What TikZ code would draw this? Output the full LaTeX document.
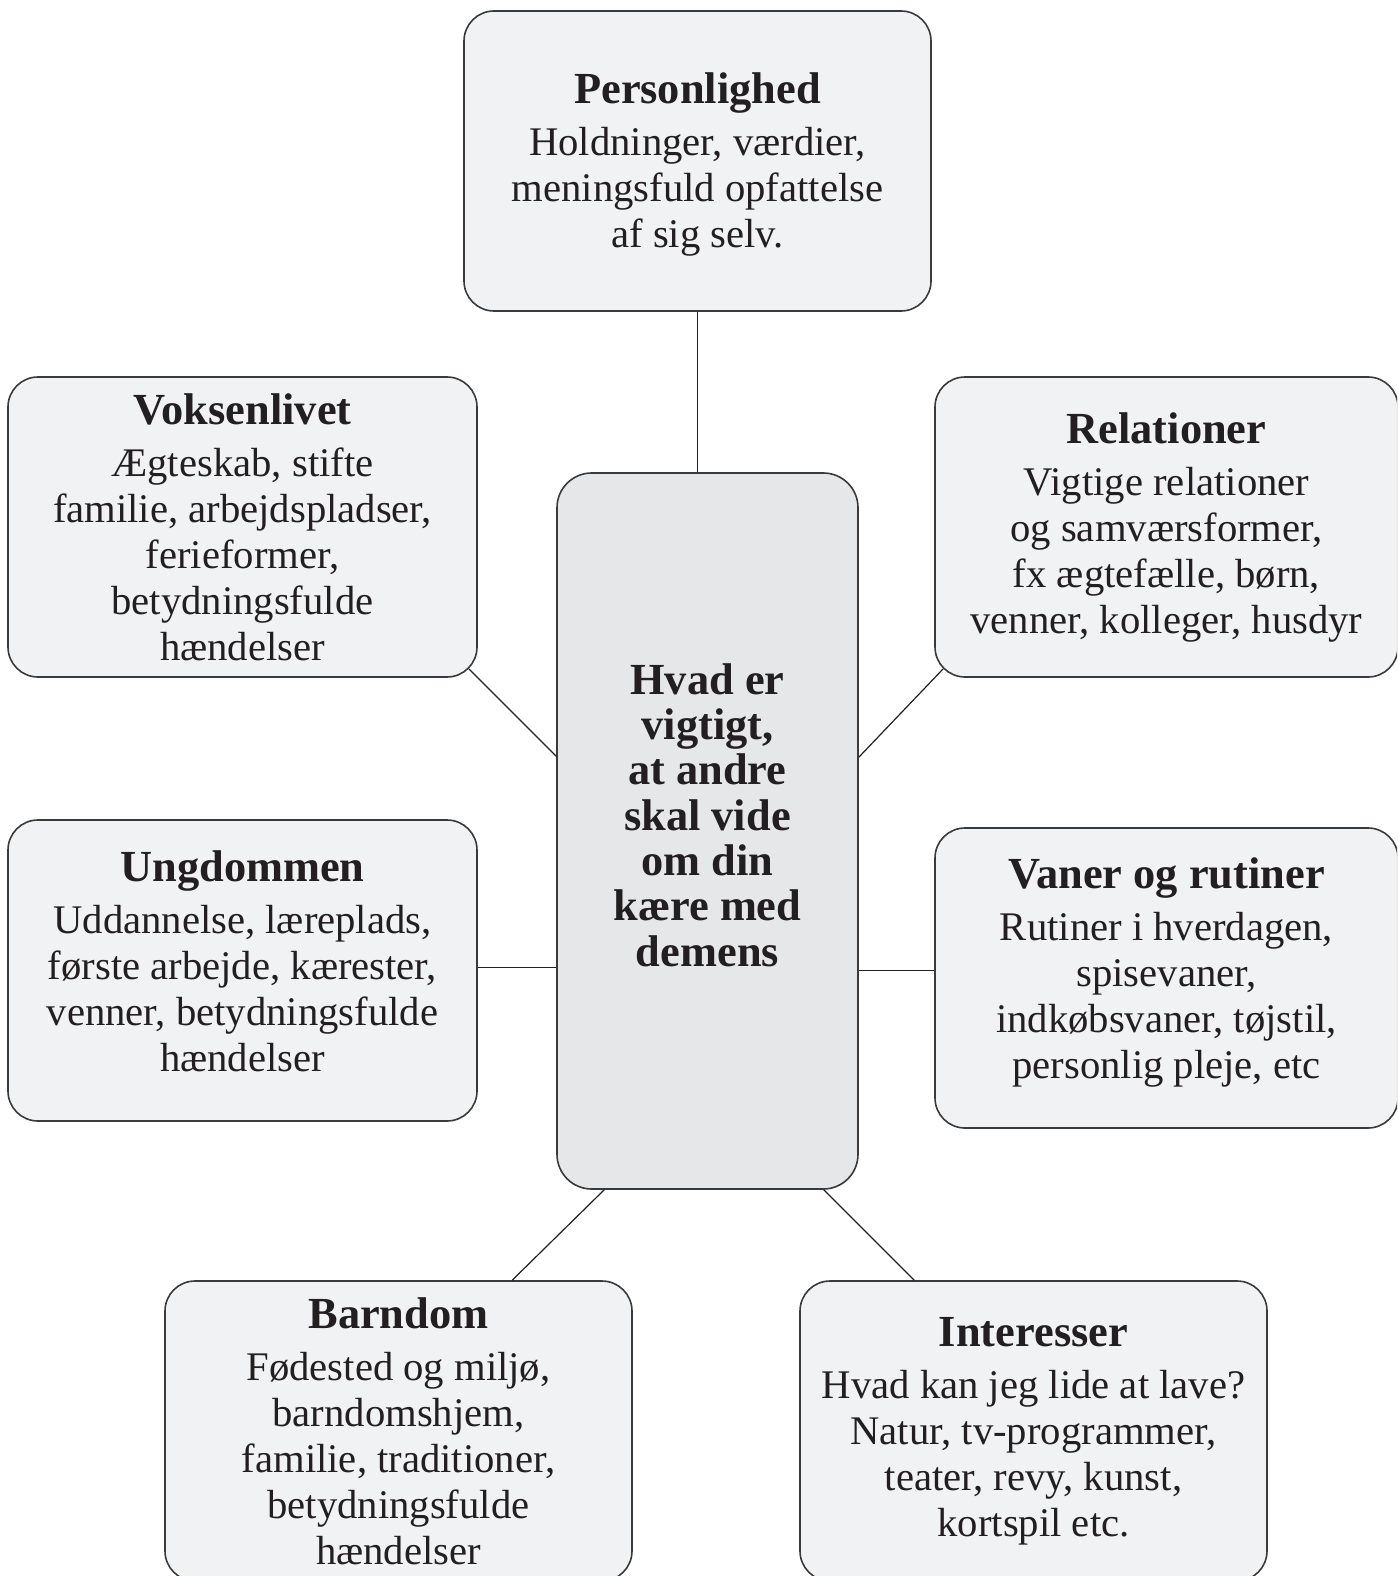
\documentclass[tikz,border=0pt]{standalone}
\usepackage{fontspec}
\setmainfont{Liberation Serif}
\usetikzlibrary{calc}
\definecolor{ink}{HTML}{231F20}
\definecolor{edgecol}{HTML}{3A3A3A}
\definecolor{boxfill}{HTML}{F1F2F3}
\definecolor{hubfill}{HTML}{E6E7E8}
\newcommand{\ttl}[1]{{\fontsize{33.3}{34.5}\selectfont\bfseries #1}\\[4.5pt]}
\begin{document}
\begin{tikzpicture}[x=0.75pt,y=-0.75pt,
  infobox/.style={draw=edgecol, line width=1.2pt, fill=boxfill, rounded corners=22.5pt,
    minimum width=350.25pt, minimum height=225pt, inner sep=0pt, align=center, text=ink,
    font=\fontsize{30.5}{34.5}\selectfont},
  hubbox/.style={draw=edgecol, line width=1.2pt, fill=hubfill, rounded corners=26pt,
    minimum width=225.75pt, minimum height=537pt, inner sep=0pt},
  hubtext/.style={align=center, text=ink, inner sep=0pt, font=\fontsize{33.3}{34}\selectfont\bfseries},
  link/.style={draw=ink, line width=0.9pt}]
\useasboundingbox (0,0) rectangle (1397,1576);
\clip (0,0) rectangle (1397,1576);
\fill[white] (0,0) rectangle (1397,1576);

\node[hubbox] (cen) at (707.5,831) {};
\node[hubtext] (cent) at ($(cen.center)+(0,-16)$) {Hvad er\\vigtigt,\\at andre\\skal vide\\om din\\kære med\\demens};

\node[infobox, text depth=2pt] (per) at (697.5,161) {\ttl{Personlighed}Holdninger, værdier,\\meningsfuld opfattelse\\af sig selv.};
\node[infobox, minimum width=351.75pt] (vok) at (242.5,527) {\ttl{Voksenlivet}Ægteskab, stifte\\familie, arbejdspladser,\\ferieformer,\\betydningsfulde\\hændelser};
\node[infobox, minimum width=347.25pt] (rel) at (1166.5,527) {\ttl{Relationer}Vigtige relationer\\og samværsformer,\\fx ægtefælle, børn,\\venner, kolleger, husdyr};
\node[infobox, minimum width=351.75pt, minimum height=225.75pt, text depth=13.5pt] (ung) at (242.5,970.5) {\ttl{Ungdommen}Uddannelse, læreplads,\\første arbejde, kærester,\\venner, betydningsfulde\\hændelser};
\node[infobox, minimum width=347.25pt, text depth=14.2pt] (van) at (1166.5,978) {\ttl{Vaner og rutiner}Rutiner i hverdagen,\\spisevaner,\\indkøbsvaner, tøjstil,\\personlig pleje, etc};
\node[infobox] (bar) at (398.5,1431) {\ttl{Barndom}Fødested og miljø,\\barndomshjem,\\familie, traditioner,\\betydningsfulde\\hændelser};
\node[infobox] (int) at (1033.5,1431) {\ttl{Interesser}Hvad kan jeg lide at lave?\\Natur, tv-programmer,\\teater, revy, kunst,\\kortspil etc.};

\draw[link] (per.south) -- (per.south |- cen.north);
\draw[link] ($(vok.south east)+(-8.8,-8.8)$) -- ($(cen.north west)+(0,284)$);
\draw[link] ($(rel.south west)+(8.8,-8.8)$) -- ($(cen.north east)+(0,285)$);
\draw[link] ($(cen.north west)+(0,495)$) -- ($(ung.east |- cen.north)+(0,495)$);
\draw[link] ($(cen.north east)+(0,498)$) -- ($(van.west |- cen.north)+(0,498)$);
\draw[link] ($(cen.south west)+(48,0)$) -- ($(bar.north west)+(348,0)$);
\draw[link] ($(cen.south east)+(-35,0)$) -- ($(int.north west)+(115,0)$);
\end{tikzpicture}
\end{document}
